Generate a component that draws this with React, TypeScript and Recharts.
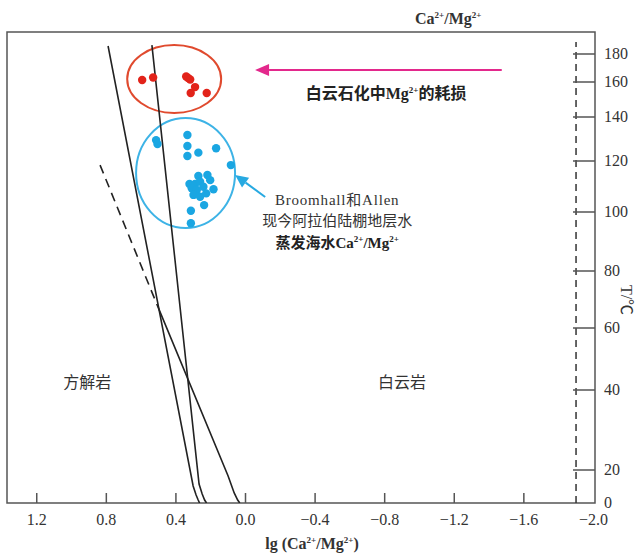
import React from "react";
import {
  ComposedChart,
  XAxis,
  YAxis,
  Line,
  Scatter,
  ReferenceArea,
  ReferenceLine,
  ReferenceDot,
} from "recharts";

const W = 641;
const H = 556;

// bottom axis: lg(Ca/Mg), top axis: Ca/Mg ratio
const lgTicks = [1.2, 0.8, 0.4, 0, -0.4, -0.8, -1.2, -1.6, -2.0];
const ratioTicks = [20, 10, 5, 3, 2, 1, 0.5];

// T/°C axis of the original is not linear: tick levels (px above the x axis)
const tempTicks = [0, 20, 40, 60, 80, 100, 120, 140, 160, 180];
const tempLevels = [0, 33, 113, 175, 232, 291, 342, 386, 421, 449];
const LEVEL_MAX = 471;

// red: dolomitization samples
const redLg = [0.594, 0.531, 0.341, 0.33, 0.318, 0.29, 0.315, 0.223];
const redT = [161.4, 163.2, 163.9, 162.9, 161.8, 157.1, 153.7, 153.7];

// blue: Broomhall & Allen, Arabian shelf formation water
const blueLg = [
  0.514, 0.506, 0.334, 0.334, 0.334, 0.271, 0.169, 0.084, 0.271, 0.219, 0.322, 0.29, 0.261,
  0.203, 0.309, 0.28, 0.242, 0.184, 0.299, 0.261, 0.226, 0.238, 0.314, 0.314,
];
const blueT = [
  129.5, 127.7, 131.8, 126.8, 122.3, 123.8, 125.8, 118.4, 114.1, 114.5, 111.0, 111.0, 111.9,
  112.5, 109.3, 108.6, 109.9, 108.9, 106.7, 106.0, 107.3, 102.7, 100.5, 96.2,
];

// equilibrium lines
const lineALg = [0.79, 0.301, 0.284, 0.272, 0.264];
const lineAT = [185.7, 10.3, 4.8, 1.8, 0];
const lineBLg = [0.538, 0.267, 0.249, 0.235, 0.224];
const lineBT = [186.4, 11.5, 5.5, 1.8, 0];
const lineCLg = [0.508, 0.1, 0.065, 0.045, 0.033];
const lineCT = [68.1, 16.4, 6.1, 1.8, 0];
const dashLg = [0.836, 0.508];
const dashT = [118.4, 68.1];

const toLevel = (t: number) => {
  for (let i = 1; i < tempTicks.length; i++) {
    if (t <= tempTicks[i] || i === tempTicks.length - 1) {
      const t0 = tempTicks[i - 1];
      const t1 = tempTicks[i];
      return tempLevels[i - 1] + ((t - t0) / (t1 - t0)) * (tempLevels[i] - tempLevels[i - 1]);
    }
  }
  return 0;
};

const toRows = (lg: number[], t: number[]) => lg.map((v, i) => ({ lg: v, p: toLevel(t[i]) }));

const redData = toRows(redLg, redT);
const blueData = toRows(blueLg, blueT);
const lineA = toRows(lineALg, lineAT);
const lineB = toRows(lineBLg, lineBT);
const lineC = toRows(lineCLg, lineCT);
const dashLine = toRows(dashLg, dashT);

const SERIF = "'Liberation Serif', 'Noto Sans CJK SC', serif";
const TXT = "#333";
const AXIS = "#555";

const fmtLg = (v: number) => {
  const s = Math.abs(v).toFixed(1);
  return v < -1e-9 ? `\u2212${s}` : s;
};

// "Ca2+/Mg2+" style text: parts alternate normal / superscript
const supText = (parts: string[], key = "") =>
  parts.map((s, i) =>
    i % 2 === 1 ? (
      <tspan key={key + i} dy={-6} fontSize={9}>
        {s}
      </tspan>
    ) : (
      <tspan key={key + i} dy={i === 0 ? 0 : 6}>
        {s}
      </tspan>
    )
  );

const BottomTick = (p: any) => (
  <g>
    {p.index < lgTicks.length - 1 && (
      <line x1={p.x} x2={p.x} y1={p.y} y2={p.y - 10} stroke={AXIS} strokeWidth={1.5} />
    )}
    <text x={p.x} y={p.y + 22} textAnchor="middle" fontSize={16} fill={TXT} fontFamily={SERIF}>
      {fmtLg(p.payload.value)}
    </text>
  </g>
);

const TopTick = (p: any) => {
  const r = ratioTicks.find((v) => Math.abs(Math.log10(v) - p.payload.value) < 1e-6);
  return (
    <g>
      <line x1={p.x} x2={p.x} y1={p.y} y2={p.y + 10} stroke={AXIS} strokeWidth={1.5} />
      <text x={p.x} y={p.y - 6} textAnchor="middle" fontSize={16} fill={TXT} fontFamily={SERIF}>
        {r}
      </text>
    </g>
  );
};

const RightTick = (p: any) => {
  const i = tempLevels.findIndex((v) => Math.abs(v - p.payload.value) < 1e-6);
  return (
    <g>
      {i > 0 && <line x1={p.x - 22} x2={p.x} y1={p.y} y2={p.y} stroke={AXIS} strokeWidth={1.5} />}
      <text x={p.x + 9} y={p.y + 5} textAnchor="start" fontSize={16} fill={TXT} fontFamily={SERIF}>
        {tempTicks[i]}
      </text>
    </g>
  );
};

const ellipse = (color: string) => (p: any) => (
  <ellipse
    cx={p.x + p.width / 2}
    cy={p.y + p.height / 2}
    rx={p.width / 2}
    ry={p.height / 2}
    fill="none"
    stroke={color}
    strokeWidth={2}
  />
);

const arrow = (color: string, len: number, half: number) => (p: any) => {
  const { x1, y1, x2, y2 } = p;
  const a = Math.atan2(y2 - y1, x2 - x1);
  const bx = x2 - len * Math.cos(a);
  const by = y2 - len * Math.sin(a);
  const nx = -Math.sin(a) * half;
  const ny = Math.cos(a) * half;
  return (
    <g>
      <line x1={x1} y1={y1} x2={bx} y2={by} stroke={color} strokeWidth={2} />
      <polygon points={`${x2},${y2} ${bx + nx},${by + ny} ${bx - nx},${by - ny}`} fill={color} />
    </g>
  );
};

const dot = (color: string) => (p: any) => <circle cx={p.cx} cy={p.cy} r={4.2} fill={color} />;

const note = (render: (x: number, y: number) => React.ReactElement) => (p: any) => render(p.cx, p.cy);

export default function App() {
  return (
    <div style={{ position: "absolute", left: 0, top: 0, width: W, height: H, background: "#fff" }}>
      <ComposedChart width={W} height={H} margin={{ top: 2, right: 0, bottom: 23, left: 7 }}>
        <XAxis
          type="number"
          dataKey="lg"
          domain={[-2.009, 1.371]}
          allowDataOverflow
          reversed
          ticks={lgTicks}
          interval={0}
          height={30}
          axisLine={false}
          tickLine={false}
          tickSize={0}
          tickMargin={0}
          tick={BottomTick}
          label={(p: any) => {
            const vb = p.viewBox;
            return (
              <text
                x={vb.x + 305}
                y={vb.y + 46}
                textAnchor="middle"
                fontSize={16}
                fontWeight="bold"
                fill={TXT}
                fontFamily={SERIF}
              >
                {supText(["lg (Ca", "2+", "/Mg", "2+", ")"])}
              </text>
            );
          }}
        />
        <XAxis
          xAxisId="top"
          orientation="top"
          type="number"
          domain={[-1.96, 1.4]}
          allowDataOverflow
          reversed
          ticks={ratioTicks.map((v) => Math.log10(v))}
          interval={0}
          height={30}
          axisLine={false}
          tickLine={false}
          tickSize={0}
          tickMargin={0}
          tick={TopTick}
          label={(p: any) => {
            const vb = p.viewBox;
            return (
              <text
                x={vb.x + 408}
                y={vb.y + 22}
                textAnchor="start"
                fontSize={16}
                fontWeight="bold"
                fill={TXT}
                fontFamily={SERIF}
              >
                {supText(["Ca", "2+", "/Mg", "2+"])}
              </text>
            );
          }}
        />
        <YAxis
          orientation="right"
          type="number"
          dataKey="p"
          domain={[0, LEVEL_MAX]}
          allowDataOverflow
          ticks={tempLevels}
          interval={0}
          width={46}
          axisLine={false}
          tickLine={false}
          tickSize={0}
          tickMargin={0}
          tick={RightTick}
          label={(p: any) => {
            const vb = p.viewBox;
            const x = vb.x + 26;
            const y = vb.y + 268;
            return (
              <text
                x={x}
                y={y}
                transform={`rotate(90 ${x} ${y})`}
                textAnchor="middle"
                fontSize={16}
                fill={TXT}
                fontFamily={SERIF}
              >
                T/℃
              </text>
            );
          }}
        />

        <ReferenceArea
          x1={-2.009}
          x2={1.371}
          y1={0}
          y2={LEVEL_MAX}
          fill="none"
          stroke={AXIS}
          strokeWidth={1.5}
          fillOpacity={0}
        />
        <ReferenceLine
          segment={[
            { x: -1.9, y: 0 },
            { x: -1.9, y: 461 },
          ]}
          stroke="#333"
          strokeWidth={1.5}
          strokeDasharray="7 5"
        />

        <Line data={lineA} dataKey="p" type="linear" stroke="#222" strokeWidth={1.6} dot={false} activeDot={false} isAnimationActive={false} />
        <Line data={lineB} dataKey="p" type="linear" stroke="#222" strokeWidth={1.6} dot={false} activeDot={false} isAnimationActive={false} />
        <Line data={lineC} dataKey="p" type="linear" stroke="#222" strokeWidth={1.6} dot={false} activeDot={false} isAnimationActive={false} />
        <Line data={dashLine} dataKey="p" type="linear" stroke="#222" strokeWidth={1.6} strokeDasharray="9 6" dot={false} activeDot={false} isAnimationActive={false} />

        <ReferenceArea x1={0.68} x2={0.14} y1={toLevel(142.3)} y2={toLevel(186.4)} shape={ellipse("#e04a2e")} />
        <ReferenceArea x1={0.629} x2={0.06} y1={toLevel(94.6)} y2={toLevel(139.5)} shape={ellipse("#3db3e6")} />

        <Scatter data={redData} dataKey="p" shape={dot("#e2231a")} isAnimationActive={false} />
        <Scatter data={blueData} dataKey="p" shape={dot("#1aa6e2")} isAnimationActive={false} />

        <ReferenceLine
          segment={[
            { x: -1.473, y: toLevel(168.6) },
            { x: -0.055, y: toLevel(168.6) },
          ]}
          shape={arrow("#e3288c", 14, 6)}
        />
        <ReferenceLine
          segment={[
            { x: -0.113, y: toLevel(105.9) },
            { x: 0.06, y: toLevel(114.5) },
          ]}
          shape={arrow("#27a9e1", 13, 6)}
        />

        <ReferenceDot
          x={-0.808}
          y={toLevel(153.7)}
          r={0}
          shape={note((x, y) => (
            <text x={x} y={y + 6} textAnchor="middle" fontSize={16} fontWeight="bold" fill="#222" fontFamily={SERIF}>
              {supText(["白云石化中Mg", "2+", "的耗损"])}
            </text>
          ))}
        />
        <ReferenceDot
          x={-0.527}
          y={toLevel(104.7)}
          r={0}
          shape={note((x, y) => (
            <g fontFamily={SERIF} textAnchor="middle">
              <text x={x} y={y + 5} fontSize={15} letterSpacing={0.8} fill={TXT}>
                Broomhall和Allen
              </text>
              <text x={x} y={y + 26} fontSize={15} fill={TXT}>
                现今阿拉伯陆棚地层水
              </text>
              <text x={x} y={y + 48} fontSize={15} fontWeight="bold" fill="#222">
                {supText(["蒸发海水Ca", "2+", "/Mg", "2+"])}
              </text>
            </g>
          ))}
        />
        <ReferenceDot
          x={0.91}
          y={toLevel(42.6)}
          r={0}
          shape={note((x, y) => (
            <text x={x} y={y + 6} textAnchor="middle" fontSize={16} fill={TXT} fontFamily={SERIF}>
              方解岩
            </text>
          ))}
        />
        <ReferenceDot
          x={-0.9}
          y={toLevel(42.6)}
          r={0}
          shape={note((x, y) => (
            <text x={x} y={y + 6} textAnchor="middle" fontSize={16} fill={TXT} fontFamily={SERIF}>
              白云岩
            </text>
          ))}
        />
      </ComposedChart>
    </div>
  );
}
